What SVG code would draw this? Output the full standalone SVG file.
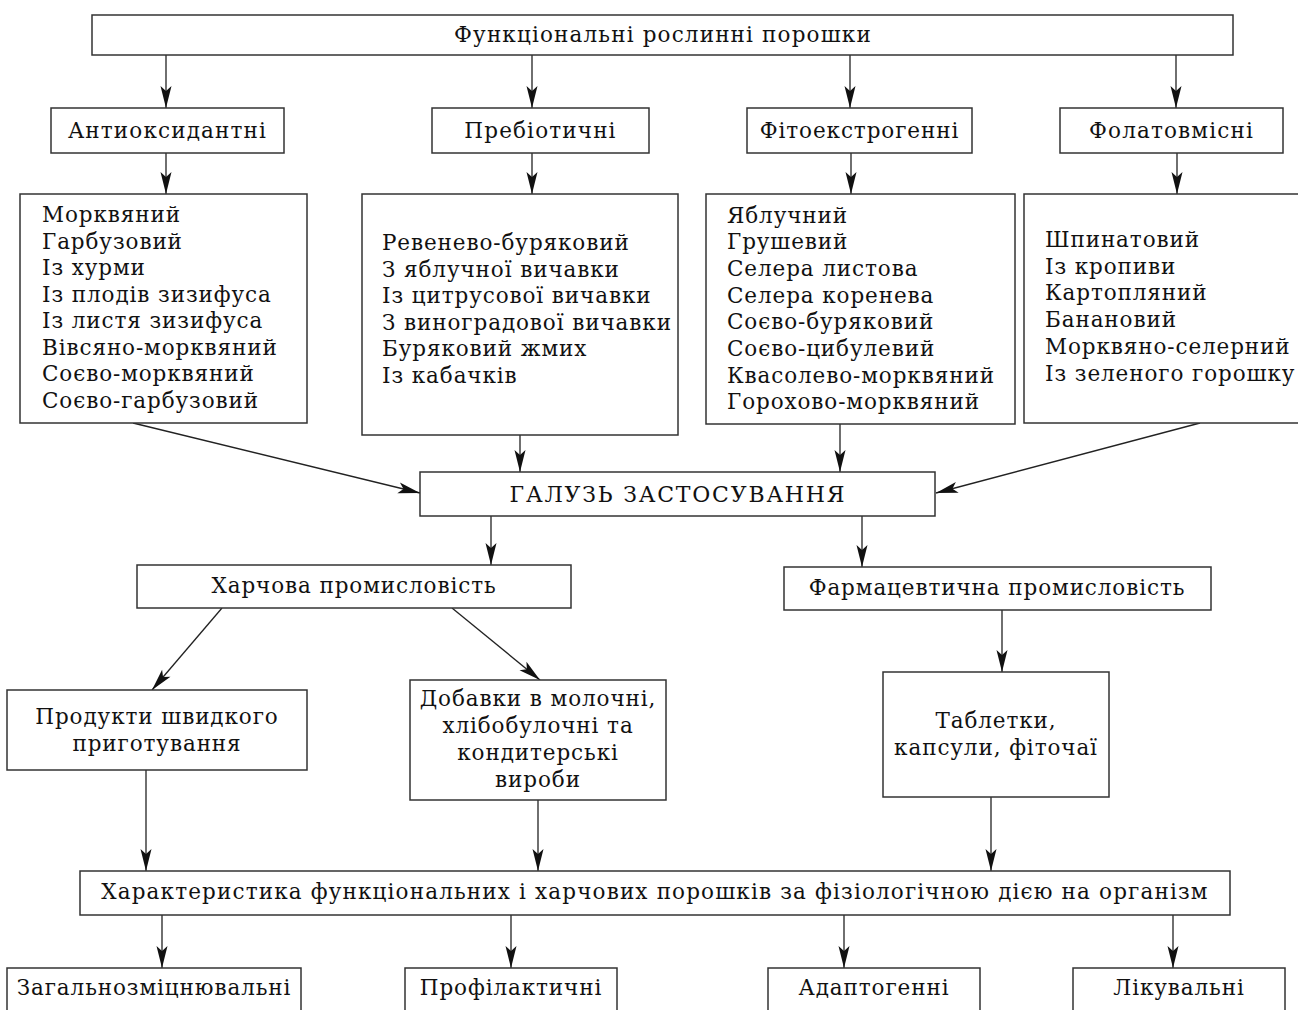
<svg xmlns="http://www.w3.org/2000/svg" width="1298" height="1010" viewBox="0 0 1298 1010">
<style>
.box{fill:#fff;stroke:#333;stroke-width:1.5}
.t{font-family:"DejaVu Serif","Liberation Serif",serif;font-size:21.5px;fill:#111;letter-spacing:0.9px}
.c{text-anchor:middle}
.big{font-size:22px;letter-spacing:1.8px}
.wide{letter-spacing:1.15px}
.ln{stroke:#222;stroke-width:1.3;fill:none;marker-end:url(#ah)}
</style>
<defs>
<marker id="ah" markerUnits="userSpaceOnUse" markerWidth="24" markerHeight="14" viewBox="-23 -7 24 14" refX="0" refY="0" orient="auto">
<path d="M0,0 L-22,-5.5 L-17,0 L-22,5.5 Z" fill="#111"/>
</marker>
</defs>
<rect width="1298" height="1010" fill="#fff"/>
<g id="connectors">
<line class="ln" x1="166" y1="54" x2="166" y2="108"/>
<line class="ln" x1="532" y1="54" x2="532" y2="108"/>
<line class="ln" x1="850" y1="54" x2="850" y2="108"/>
<line class="ln" x1="1176" y1="54" x2="1176" y2="108"/>
<line class="ln" x1="166" y1="153" x2="166" y2="194"/>
<line class="ln" x1="532" y1="153" x2="532" y2="194"/>
<line class="ln" x1="851" y1="153" x2="851" y2="194"/>
<line class="ln" x1="1177" y1="153" x2="1177" y2="194"/>
<line class="ln" x1="133" y1="423" x2="420" y2="493"/>
<line class="ln" x1="520" y1="435" x2="520" y2="472"/>
<line class="ln" x1="840" y1="424" x2="840" y2="472"/>
<line class="ln" x1="1200" y1="423" x2="936" y2="493"/>
<line class="ln" x1="491" y1="516" x2="491" y2="565"/>
<line class="ln" x1="862" y1="516" x2="862" y2="567"/>
<line class="ln" x1="222" y1="608" x2="152" y2="690"/>
<line class="ln" x1="452" y1="608" x2="540" y2="680"/>
<line class="ln" x1="1002" y1="610" x2="1002" y2="672"/>
<line class="ln" x1="146" y1="770" x2="146" y2="871"/>
<line class="ln" x1="538" y1="800" x2="538" y2="871"/>
<line class="ln" x1="991" y1="797" x2="991" y2="871"/>
<line class="ln" x1="162" y1="915" x2="162" y2="968"/>
<line class="ln" x1="511" y1="915" x2="511" y2="968"/>
<line class="ln" x1="844" y1="915" x2="844" y2="968"/>
<line class="ln" x1="1173" y1="915" x2="1173" y2="968"/>
</g>
<g id="n-root"><rect class="box" x="92" y="15" width="1141" height="40"/><text class="t c wide" x="663" y="42">Функціональні рослинні порошки</text></g>
<g id="n-antiox"><rect class="box" x="51" y="108" width="233" height="45"/><text class="t c wide" x="167.5" y="138">Антиоксидантні</text></g>
<g id="n-prebio"><rect class="box" x="432" y="108" width="217" height="45"/><text class="t c wide" x="540.5" y="138">Пребіотичні</text></g>
<g id="n-phyto"><rect class="box" x="747" y="108" width="225" height="45"/><text class="t c" x="859.5" y="138">Фітоекстрогенні</text></g>
<g id="n-folat"><rect class="box" x="1060" y="108" width="223" height="45"/><text class="t c wide" x="1171.5" y="138">Фолатовмісні</text></g>
<g id="n-list1"><rect class="box" x="20" y="194" width="287" height="229"/>
<text class="t" x="42" y="222">Морквяний</text>
<text class="t" x="42" y="248.5">Гарбузовий</text>
<text class="t" x="42" y="275">Із хурми</text>
<text class="t" x="42" y="301.5">Із плодів зизифуса</text>
<text class="t" x="42" y="328">Із листя зизифуса</text>
<text class="t" x="42" y="354.5">Вівсяно-морквяний</text>
<text class="t" x="42" y="381">Соєво-морквяний</text>
<text class="t" x="42" y="407.5">Соєво-гарбузовий</text>
</g>
<g id="n-list2"><rect class="box" x="362" y="194" width="316" height="241"/>
<text class="t" x="382" y="250">Ревенево-буряковий</text>
<text class="t" x="382" y="276.5">З яблучної вичавки</text>
<text class="t" x="382" y="303">Із цитрусової вичавки</text>
<text class="t" x="382" y="329.5">З виноградової вичавки</text>
<text class="t" x="382" y="356">Буряковий жмих</text>
<text class="t" x="382" y="382.5">Із кабачків</text>
</g>
<g id="n-list3"><rect class="box" x="706" y="194" width="309" height="230"/>
<text class="t" x="727" y="222.5">Яблучний</text>
<text class="t" x="727" y="249.2">Грушевий</text>
<text class="t" x="727" y="275.9">Селера листова</text>
<text class="t" x="727" y="302.6">Селера коренева</text>
<text class="t" x="727" y="329.3">Соєво-буряковий</text>
<text class="t" x="727" y="356">Соєво-цибулевий</text>
<text class="t" x="727" y="382.7">Квасолево-морквяний</text>
<text class="t" x="727" y="409.4">Горохово-морквяний</text>
</g>
<g id="n-list4"><rect class="box" x="1024" y="194" width="280" height="229"/>
<text class="t" x="1045" y="247">Шпинатовий</text>
<text class="t" x="1045" y="273.7">Із кропиви</text>
<text class="t" x="1045" y="300.4">Картопляний</text>
<text class="t" x="1045" y="327.1">Банановий</text>
<text class="t" x="1045" y="353.8">Морквяно-селерний</text>
<text class="t" x="1045" y="380.5">Із зеленого горошку</text>
</g>
<g id="n-galuz"><rect class="box" x="420" y="472" width="515" height="44"/><text class="t c big" x="678" y="502">ГАЛУЗЬ ЗАСТОСУВАННЯ</text></g>
<g id="n-food"><rect class="box" x="137" y="565" width="434" height="43"/><text class="t c" x="354" y="593">Харчова промисловість</text></g>
<g id="n-pharm"><rect class="box" x="784" y="567" width="427" height="43"/><text class="t c" x="997" y="595">Фармацевтична промисловість</text></g>
<g id="n-fast"><rect class="box" x="7" y="690" width="300" height="80"/><text class="t c" x="157" y="724">Продукти швидкого</text><text class="t c" x="157" y="751">приготування</text></g>
<g id="n-add"><rect class="box" x="410" y="680" width="256" height="120"/>
<text class="t c" x="538" y="706">Добавки в молочні,</text>
<text class="t c" x="538" y="733">хлібобулочні та</text>
<text class="t c" x="538" y="759.5">кондитерські</text>
<text class="t c" x="538" y="786.5">вироби</text>
</g>
<g id="n-tabl"><rect class="box" x="883" y="672" width="226" height="125"/><text class="t c" x="996" y="728">Таблетки,</text><text class="t c" x="996" y="755">капсули, фіточаї</text></g>
<g id="n-char"><rect class="box" x="80" y="871" width="1150" height="44"/><text class="t c wide" x="655" y="899">Характеристика функціональних і харчових порошків за фізіологічною дією на організм</text></g>
<g id="n-gen"><rect class="box" x="7" y="968" width="294" height="60"/><text class="t c" x="154" y="995">Загальнозміцнювальні</text></g>
<g id="n-prof"><rect class="box" x="405" y="968" width="212" height="60"/><text class="t c" x="511" y="995">Профілактичні</text></g>
<g id="n-adapt"><rect class="box" x="768" y="968" width="212" height="60"/><text class="t c" x="874" y="995">Адаптогенні</text></g>
<g id="n-lik"><rect class="box" x="1073" y="968" width="212" height="60"/><text class="t c" x="1179" y="995">Лікувальні</text></g>
</svg>
